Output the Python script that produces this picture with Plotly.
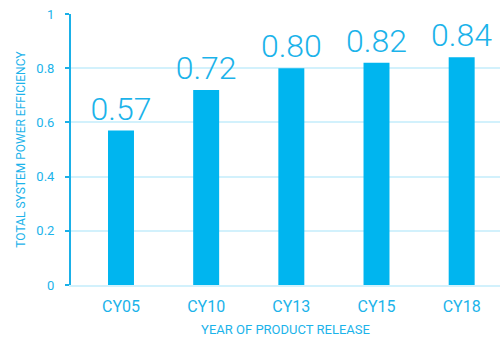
import plotly.graph_objects as go

# Power efficiency by product release year
years = ["CY05", "CY10", "CY13", "CY15", "CY18"]
efficiency = [0.57, 0.72, 0.80, 0.82, 0.84]
labels = ["0.57", "0.72", "0.80", "0.82", "0.84"]
y_ticks = [0, 0.2, 0.4, 0.6, 0.8, 1]
y_tick_text = ["0", "0.2", "0.4", "0.6", "0.8", "1"]

BAR = "#00b5ef"
TEXT = "#1bb3ea"
GRID = "#d2f1fc"

fig = go.Figure(
    go.Bar(
        x=list(range(len(years))),
        y=efficiency,
        width=0.305,
        marker=dict(color=BAR, line=dict(width=0)),
        text=labels,
        textposition="outside",
        constraintext="none",
        textfont=dict(family="Roboto", size=32, color=TEXT, weight=300),
        cliponaxis=False,
    )
)

fig.update_layout(
    width=502,
    height=339,
    margin=dict(l=71, r=2, t=14, b=54),
    paper_bgcolor="white",
    plot_bgcolor="white",
    showlegend=False,
    font=dict(family="Roboto", color=TEXT),
    xaxis=dict(
        range=[-0.587, 4.45],
        tickvals=list(range(len(years))),
        ticktext=years,
        tickfont=dict(size=16, color=TEXT),
        ticklabelstandoff=6,
        showgrid=False,
        zeroline=False,
        showline=True,
        linecolor=GRID,
        linewidth=2,
        ticks="",
        title=dict(text="YEAR OF PRODUCT RELEASE", font=dict(size=13, color=TEXT), standoff=10),
    ),
    yaxis=dict(
        range=[0, 1],
        tickvals=y_ticks,
        ticktext=y_tick_text,
        tickfont=dict(size=13, color=TEXT),
        ticklabelstandoff=8,
        showgrid=True,
        gridcolor=GRID,
        gridwidth=1.5,
        zeroline=False,
        showline=True,
        linecolor="#1ab0e8",
        linewidth=2,
        ticks="outside",
        ticklen=4,
        tickcolor="#1ab0e8",
        tickwidth=2,
        title=dict(text="TOTAL SYSTEM POWER EFFICIENCY", font=dict(size=12, color=TEXT), standoff=8),
    ),
)

fig.write_html("out.html")
